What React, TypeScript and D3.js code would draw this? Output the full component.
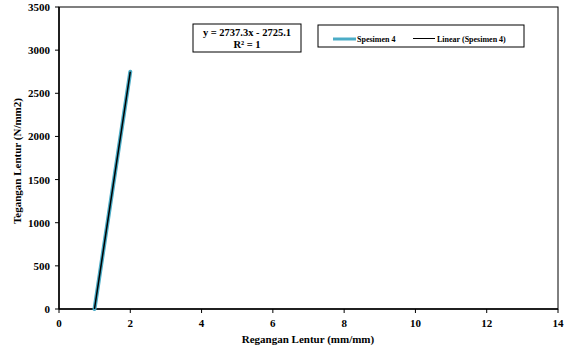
import React from 'react';
import * as d3 from 'd3';

// data
const strainValues = [0.996, 2.0];
const stressValues = [0, 2750];
const trendX = [0.9955, 2.0];
const trendY = [0, 2749.5];
const xTicks = [0, 2, 4, 6, 8, 10, 12, 14];
const yTicks = [0, 500, 1000, 1500, 2000, 2500, 3000, 3500];
const seriesName = 'Spesimen 4';
const trendName = 'Linear (Spesimen 4)';
const equationLines = ['y = 2737.3x - 2725.1', 'R² = 1'];

const W = 567;
const H = 351;
const margin = { top: 7, right: 9, bottom: 42, left: 59 };

const App = () => {
  const innerW = W - margin.left - margin.right;
  const innerH = H - margin.top - margin.bottom;

  const x = d3.scaleLinear().domain([0, 14]).range([0, innerW]);
  const y = d3.scaleLinear().domain([0, 3500]).range([innerH, 0]);

  const line = d3.line<[number, number]>()
    .x(d => x(d[0]))
    .y(d => y(d[1]));

  const seriesPath = line(strainValues.map((v, i) => [v, stressValues[i]]));
  const trendPath = line(trendX.map((v, i) => [v, trendY[i]]));

  const font = '"Liberation Serif", "Times New Roman", serif';

  return (
    <svg
      width={W}
      height={H}
      style={{ position: 'absolute', left: 0, top: 0, display: 'block', background: '#fff', fontFamily: font }}
    >
      <g transform={`translate(${margin.left}, ${margin.top})`}>
        {/* frame */}
        <rect x={0} y={0} width={innerW} height={innerH} fill="none" stroke="#000" strokeWidth={1} />
        <line x1={0} y1={0} x2={0} y2={innerH} stroke="#000" strokeWidth={1.5} />
        <line x1={0} y1={innerH} x2={innerW} y2={innerH} stroke="#000" strokeWidth={1.5} />

        {/* y ticks */}
        {yTicks.map(t => (
          <g key={`y-${t}`} transform={`translate(0, ${y(t)})`}>
            <line x1={-4} x2={0} stroke="#000" strokeWidth={1} />
            <text x={-9} y={4} textAnchor="end" fontSize={11} fontWeight="bold">{t}</text>
          </g>
        ))}

        {/* x ticks */}
        {xTicks.map(t => (
          <g key={`x-${t}`} transform={`translate(${x(t)}, ${innerH})`}>
            <line y1={0} y2={4} stroke="#000" strokeWidth={1} />
            <text y={18} textAnchor="middle" fontSize={11} fontWeight="bold">{t}</text>
          </g>
        ))}

        {/* series */}
        <path d={seriesPath ?? ''} fill="none" stroke="#4bacc6" strokeWidth={4} strokeLinecap="round" />
        <path d={trendPath ?? ''} fill="none" stroke="#000" strokeWidth={1.5} />
      </g>

      {/* equation box */}
      <rect x={193} y={24} width={108} height={28} fill="#fff" stroke="#000" strokeWidth={1} />
      <text x={247} y={36} textAnchor="middle" fontSize={10.5} fontWeight="bold">{equationLines[0]}</text>
      <text x={247} y={48} textAnchor="middle" fontSize={10.5} fontWeight="bold">{equationLines[1]}</text>

      {/* legend */}
      <rect x={318} y={25} width={206} height={22} fill="#fff" stroke="#000" strokeWidth={1} />
      <line x1={333} x2={356} y1={39} y2={39} stroke="#4bacc6" strokeWidth={3} />
      <text x={357} y={41.5} fontSize={8} fontWeight="bold">{seriesName}</text>
      <line x1={413} x2={435} y1={38.5} y2={38.5} stroke="#000" strokeWidth={1} />
      <text x={437} y={41.5} fontSize={8} fontWeight="bold">{trendName}</text>

      {/* axis titles */}
      <text x={308} y={343} textAnchor="middle" fontSize={11} fontWeight="bold">Regangan Lentur (mm/mm)</text>
      <text
        transform={`translate(21, 161) rotate(-90)`}
        textAnchor="middle"
        fontSize={11}
        fontWeight="bold"
      >
        Tegangan Lentur (N/mm2)
      </text>
    </svg>
  );
};

export default App;
